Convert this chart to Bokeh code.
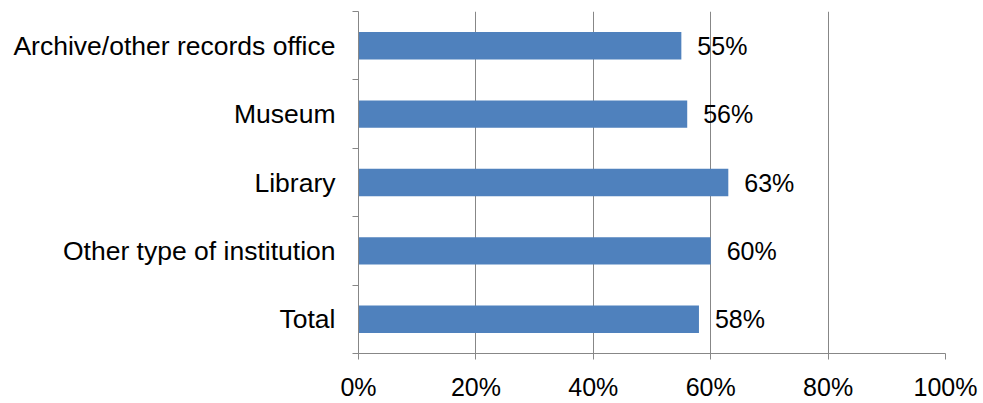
from bokeh.plotting import figure
from bokeh.models import ColumnDataSource, FixedTicker, NumeralTickFormatter, Range1d
from bokeh.core.properties import value
from bokeh.embed import file_html
from bokeh.resources import INLINE

categories = ["Archive/other records office", "Museum", "Library", "Other type of institution", "Total"]
values = [0.55, 0.56, 0.63, 0.60, 0.58]
x_ticks = [0, 0.2, 0.4, 0.6, 0.8, 1.0]

n = len(categories)
ypos = [n - 1 - i + 0.5 for i in range(n)]
labels = ["%d%%" % round(v * 100) for v in values]
src = ColumnDataSource(dict(y=ypos, v=values, lab=labels, cat=categories))

FONT = "Liberation Sans"
GRID = "#878787"

p = figure(width=983, height=403, output_backend="svg", toolbar_location=None,
           x_range=Range1d(0, 1), y_range=Range1d(0, n),
           min_border_left=358, min_border_right=38, min_border_top=11, min_border_bottom=45)
p.outline_line_color = None
p.background_fill_color = "white"
p.border_fill_color = "white"

p.hbar(y="y", right="v", left=0, height=0.4, source=src, color="#4F81BD", line_color=None)
p.text(x="v", y="y", text="lab", source=src, x_offset=16, text_align="left", text_baseline="middle",
       text_font=value(FONT), text_font_size="25px", text_color="black")

# x axis
p.xaxis.ticker = FixedTicker(ticks=x_ticks)
p.xaxis.formatter = NumeralTickFormatter(format="0%")
p.xaxis.axis_line_color = GRID
p.xaxis.major_tick_line_color = GRID
p.xaxis.major_tick_out = 6
p.xaxis.major_tick_in = 0
p.xaxis.minor_tick_line_color = None
p.xaxis.major_label_standoff = 13
p.xaxis.major_label_text_font = FONT
p.xaxis.major_label_text_font_size = "25px"
p.xaxis.major_label_text_color = "black"

# y axis
p.yaxis.ticker = FixedTicker(ticks=ypos, minor_ticks=list(range(n + 1)))
p.yaxis.major_label_overrides = {y: c for y, c in zip(ypos, categories)}
p.yaxis.axis_line_color = GRID
p.yaxis.major_tick_line_color = None
p.yaxis.major_tick_out = 0
p.yaxis.major_tick_in = 0
p.yaxis.minor_tick_line_color = GRID
p.yaxis.minor_tick_out = 6
p.yaxis.minor_tick_in = 0
p.yaxis.major_label_standoff = 17
p.yaxis.major_label_text_font = FONT
p.yaxis.major_label_text_font_size = "26.5px"
p.yaxis.major_label_text_color = "black"

p.xgrid.ticker = FixedTicker(ticks=x_ticks)
p.xgrid.grid_line_color = GRID
p.ygrid.grid_line_color = None

open("out.html", "w").write(file_html(p, INLINE))
